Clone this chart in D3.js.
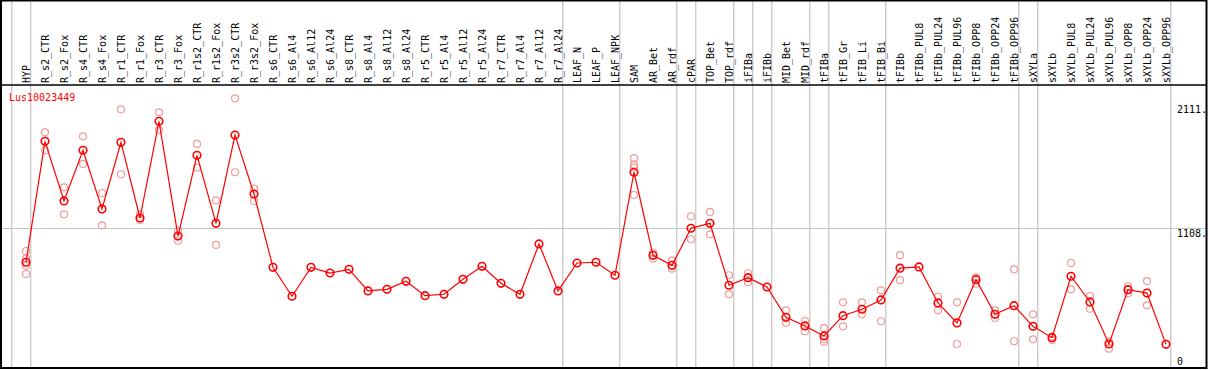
<!DOCTYPE html>
<html>
<head>
<meta charset="utf-8">
<script src="https://cdnjs.cloudflare.com/ajax/libs/d3/7.8.5/d3.min.js"></script>
<style>
  body { margin: 0; background: #fff; }
  text { font-family: "DejaVu Sans Mono", monospace; font-size: 10px; }
</style>
</head>
<body>
<div id="chart"></div>
<script>
var geneName = "Lus10023449";

var categories = ["HYP", "R_s2_CTR", "R_s2_Fox", "R_s4_CTR", "R_s4_Fox", "R_r1_CTR", "R_r1_Fox",
    "R_r3_CTR", "R_r3_Fox", "R_r1s2_CTR", "R_r1s2_Fox", "R_r3s2_CTR", "R_r3s2_Fox", "R_s6_CTR",
    "R_s6_Al4", "R_s6_Al12", "R_s6_Al24", "R_s8_CTR", "R_s8_Al4", "R_s8_Al12", "R_s8_Al24",
    "R_r5_CTR", "R_r5_Al4", "R_r5_Al12", "R_r5_Al24", "R_r7_CTR", "R_r7_Al4", "R_r7_Al12",
    "R_r7_Al24", "LEAF_N", "LEAF_P", "LEAF_NPK", "SAM", "AR_Bet", "AR_rdf", "cPAR", "TOP_Bet",
    "TOP_rdf", "iFIBa", "iFIBb", "MID_Bet", "MID_rdf", "tFIBa", "tFIB_Gr", "tFIB_Li", "tFIB_Bi",
    "tFIBb", "tFIBb_PUL8", "tFIBb_PUL24", "tFIBb_PUL96", "tFIBb_OPP8", "tFIBb_OPP24", "tFIBb_OPP96",
    "sXYLa", "sXYLb", "sXYLb_PUL8", "sXYLb_PUL24", "sXYLb_PUL96", "sXYLb_OPP8", "sXYLb_OPP24",
    "sXYLb_OPP96"];

// mean expression per sample
var means = [835, 1813, 1331, 1741, 1266, 1805, 1193, 1975, 1047, 1700, 1150, 1864, 1387, 794,
    560, 794, 748, 778, 603, 616, 681, 565, 576, 697, 802, 665, 576, 983, 603, 829, 835, 730,
    1563, 891, 810, 1110, 1150, 649, 710, 635, 390, 320, 239, 403, 455, 530, 787, 797, 506, 344,
    694, 414, 484, 317, 225, 722, 514, 174, 613, 586, 171];

// individual replicates (empty where they sit on the mean)
var replicates = [[926, 867, 807, 740], [1886, 1741], [1441, 1223], [1854, 1630], [1395, 1134],
    [2072, 1547], [1223, 1177], [2048, 1905], [1090, 1009], [1792, 1600], [1336, 975],
    [2161, 1563], [1430, 1331], [], [], [], [], [], [], [], [], [], [], [], [], [], [], [], [],
    [], [], [], [1678, 1624, 1603, 1379], [912, 864], [848, 783], [1207, 1021], [1242, 1061],
    [730, 576], [746, 675], [], [446, 346], [360, 277], [303, 212, 190], [511, 317], [511, 414],
    [608, 358], [892, 690], [], [556, 446], [511, 174], [713, 662], [446, 384], [778, 196],
    [414, 212], [233, 206], [829, 616], [562, 459], [193, 136], [641, 584], [683, 487], []];

var yTicks = [2111, 1108, 0];
var yTickLabels = ["2111.", "1108.", "0"];

// a grey separator follows each of these samples
var groupEnds = ["HYP", "R_r7_Al24", "LEAF_NPK", "AR_rdf", "cPAR", "TOP_rdf", "iFIBa", "iFIBb",
    "MID_rdf", "tFIBa", "tFIB_Bi", "tFIBb_OPP96", "sXYLa", "sXYLb_OPP96"];

var width = 1209,
    height = 370,
    headerBottom = 85,
    bottom = 368,
    right = 1206.5;

var svg = d3.select("#chart").append("svg")
    .attr("width", width)
    .attr("height", height);

var x = d3.scalePoint()
    .domain(categories)
    .range([26, 1166]);

var y = d3.scaleLinear()
    .domain([0, 2111])
    .range([365.5, 104.5]);

var step = x.step();

// grey separators
svg.append("line")
    .attr("x1", x(categories[0]) - step + step / 4).attr("x2", x(categories[0]) - step + step / 4)
    .attr("y1", 0).attr("y2", bottom)
    .attr("stroke", "#c4c4c4").attr("stroke-width", 1.2);

svg.selectAll(".sep")
    .data(groupEnds)
    .enter().append("line")
    .attr("class", "sep")
    .attr("x1", function(d) { return x(d) + step / 4; })
    .attr("x2", function(d) { return x(d) + step / 4; })
    .attr("y1", 0).attr("y2", bottom)
    .attr("stroke", "#c4c4c4").attr("stroke-width", 1.2);

// horizontal grid at the middle tick
svg.append("line")
    .attr("x1", 0).attr("x2", right)
    .attr("y1", y(1108)).attr("y2", y(1108))
    .attr("stroke", "#c4c4c4").attr("stroke-width", 1.2);

// frame
svg.append("rect")
    .attr("x", 1).attr("y", 0.5)
    .attr("width", right - 1).attr("height", bottom - 0.5)
    .attr("fill", "none").attr("stroke", "#000").attr("stroke-width", 2);
svg.append("line")
    .attr("x1", 0).attr("x2", right)
    .attr("y1", headerBottom).attr("y2", headerBottom)
    .attr("stroke", "#000").attr("stroke-width", 1.5);

// sample labels
svg.selectAll(".lab")
    .data(categories)
    .enter().append("text")
    .attr("class", "lab")
    .attr("transform", function(d) { return "translate(" + x(d) + "," + (headerBottom - 2) + ") rotate(-90)"; })
    .attr("dy", "0.35em")
    .attr("fill", "#000")
    .text(function(d) { return d; });

// y labels
svg.selectAll(".ylab")
    .data(yTicks)
    .enter().append("text")
    .attr("class", "ylab")
    .attr("x", 1177)
    .attr("y", function(d) { return Math.min(y(d) + 8, 365); })
    .attr("fill", "#000")
    .text(function(d, i) { return yTickLabels[i]; });

svg.append("text")
    .attr("x", 9)
    .attr("y", 101)
    .attr("fill", "#ff0000")
    .text(geneName);

// replicate points
var reps = [];
replicates.forEach(function(r, i) {
    r.forEach(function(v) { reps.push({cat: categories[i], v: v}); });
});

svg.selectAll(".rep")
    .data(reps)
    .enter().append("circle")
    .attr("class", "rep")
    .attr("cx", function(d) { return x(d.cat); })
    .attr("cy", function(d) { return y(d.v); })
    .attr("r", 3.5)
    .attr("fill", "none")
    .attr("stroke", "#f09a9a")
    .attr("stroke-width", 1.2);

var line = d3.line()
    .x(function(d, i) { return x(categories[i]); })
    .y(function(d) { return y(d); });

svg.append("path")
    .datum(means)
    .attr("d", line)
    .attr("fill", "none")
    .attr("stroke", "#ff0000")
    .attr("stroke-width", 1.2);

svg.selectAll(".mean")
    .data(means)
    .enter().append("circle")
    .attr("class", "mean")
    .attr("cx", function(d, i) { return x(categories[i]); })
    .attr("cy", function(d) { return y(d); })
    .attr("r", 3.8)
    .attr("fill", "none")
    .attr("stroke", "#ff0000")
    .attr("stroke-width", 1.6);
</script>
</body>
</html>
